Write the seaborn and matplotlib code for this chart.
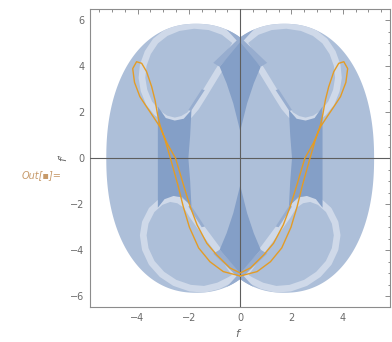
import numpy as np
import pandas as pd
import matplotlib
matplotlib.use("Agg")
import matplotlib.pyplot as plt
import seaborn as sns
from matplotlib.patches import Polygon
from matplotlib.ticker import MultipleLocator

# ---------------- data ----------------
# the two lobes: superellipse centre x, semi-axes and exponent (right lobe is the mirror)
lobe_cx = -1.72
lobe_a = 3.5
lobe_b = 5.85
lobe_n = 2.2

# light rings (centre lines)
ring_ul_x = [-0.14, -0.5, -0.85, -1.15, -1.45, -1.72, -1.98, -2.25, -2.55, -2.9, -3.25, -3.55, -3.75,
             -3.83, -3.78, -3.6, -3.3, -2.9, -2.4, -1.8, -1.2, -0.65, -0.14]
ring_ul_y = [5.05, 4.4, 3.8, 3.25, 2.7, 2.22, 1.88, 1.7, 1.62, 1.72, 1.98, 2.4, 2.95,
             3.5, 4.05, 4.6, 5.1, 5.45, 5.68, 5.78, 5.72, 5.5, 5.05]
ring_ll_x = [-0.14, -0.5, -0.9, -1.3, -1.6, -1.85, -2.1, -2.4, -2.74, -3.1, -3.45, -3.7, -3.78,
             -3.7, -3.45, -3.05, -2.55, -1.95, -1.4, -0.85, -0.4, -0.14]
ring_ll_y = [-5.12, -4.55, -3.95, -3.35, -2.9, -2.5, -2.05, -1.82, -1.75, -1.9, -2.25, -2.8, -3.35,
             -3.95, -4.55, -5.05, -5.42, -5.65, -5.7, -5.55, -5.3, -5.12]
ring_ur_x = [0.14, 0.5, 0.85, 1.15, 1.45, 1.72, 1.98, 2.25, 2.55, 2.9, 3.25, 3.55, 3.75,
             3.83, 3.78, 3.6, 3.3, 2.9, 2.4, 1.8, 1.2, 0.65, 0.14]
ring_ur_y = ring_ul_y
ring_lr_x = [0.14, 0.5, 0.9, 1.3, 1.6, 1.85, 2.1, 2.4, 2.74, 3.1, 3.45, 3.7, 3.78,
             3.7, 3.45, 3.05, 2.55, 1.95, 1.4, 0.85, 0.4, 0.14]
ring_lr_y = ring_ll_y

# dark side regions
side_l_x = [-3.21, -3.21, -2.95, -2.6, -2.25, -1.9, -1.95, -2.02, -1.95, -1.9, -2.2, -2.55, -2.9]
side_l_y = [2.25, -2.15, -1.78, -1.64, -1.7, -2.1, -1.0, 0.0, 1.0, 2.1, 1.72, 1.64, 1.75]
side_r_x = [3.21, 3.21, 2.95, 2.6, 2.25, 1.9, 1.95, 2.02, 1.95, 1.9, 2.2, 2.55, 2.9]
side_r_y = side_l_y

# central hourglasses
hour_t_x = [0.0, -0.8, -0.53, -0.27, -0.14, 0.0, 0.14, 0.27, 0.53, 0.8]
hour_t_y = [5.05, 3.98, 3.26, 2.39, 1.81, 1.18, 1.81, 2.39, 3.26, 3.98]
hour_b_x = hour_t_x
hour_b_y = [-5.0, -3.98, -3.26, -2.39, -1.81, -1.18, -1.81, -2.39, -3.26, -3.98]

# crossing bands (X) above / below the hourglasses
xarm_x = [[-1.05, 0.45, 0.65, -0.8], [1.05, -0.45, -0.65, 0.8]]
xarm_top_y = [4.15, 5.75, 5.75, 3.98]
xarm_bot_y = [-4.15, -5.75, -5.75, -3.98]

# thin slivers along the diagonals
sliver_x = [[-1.92, -1.38, -1.5, -2.02], [1.92, 1.38, 1.5, 2.02]]
sliver_top_y = [2.05, 2.97, 3.0, 2.1]
sliver_bot_y = [-2.05, -2.97, -3.0, -2.1]

# orange curve
curve_f = [0.0, -0.66, -1.18, -1.62, -1.98, -2.22, -2.42, -2.72, -2.93, -3.13, -3.22, -3.32, -3.45,
           -3.65, -3.84, -4.04, -4.19, -4.12, -3.91, -3.65, -3.39, -3.13, -2.85, -2.52, -2.2,
           -1.95, -1.68, -1.3, -0.92, -0.40, 0.0,
           0.40, 0.92, 1.3, 1.68, 1.95, 2.2, 2.52, 2.85, 3.13, 3.39, 3.65, 3.91, 4.12, 4.19,
           4.04, 3.84, 3.65, 3.45, 3.32, 3.22, 3.13, 2.93, 2.72, 2.42, 2.22, 1.98, 1.62, 1.18,
           0.66, 0.0]
curve_fp = [-5.12, -4.93, -4.5, -3.9, -3.0, -2.1, -1.2, 0.0, 0.8, 1.45, 1.9, 2.53, 3.11,
            3.77, 4.13, 4.2, 3.9, 3.3, 2.68, 2.24, 1.81, 1.37, 0.65, 0.0, -1.2,
            -2.1, -2.9, -3.7, -4.2, -4.77, -4.99,
            -4.77, -4.2, -3.7, -2.9, -2.1, -1.2, 0.0, 0.65, 1.37, 1.81, 2.24, 2.68, 3.3, 3.9,
            4.2, 4.13, 3.77, 3.11, 2.53, 1.9, 1.45, 0.8, 0.0, -1.2, -2.1, -3.0, -3.9, -4.5,
            -4.93, -5.12]

x_ticks = [-4, -2, 0, 2, 4]
y_ticks = [-6, -4, -2, 0, 2, 4, 6]

# ---------------- styling ----------------
sns.set_theme(style="white")
plt.rcParams["font.family"] = ["DejaVu Sans"]

c_light = "#cfd9e9"
c_mid = "#adbfd9"
c_3 = "#97adcf"
c_4 = "#849fc7"
c_curve = "#e39c26"
c_frame = "#8c8c8c"
c_text = "#6a6a6a"

W, H = 392, 342
fig = plt.figure(figsize=(W / 100, H / 100), dpi=100)
ax = fig.add_axes([90 / W, (H - 307) / H, 300 / W, 297.7 / H])
ax.set_xlim(-5.855, 5.84)
ax.set_ylim(-6.47, 6.48)

# outline of the union of the two superelliptic lobes
th = np.linspace(0, 2 * np.pi, 1441)
ex = lobe_cx + lobe_a * np.sign(np.cos(th)) * np.abs(np.cos(th)) ** (2 / lobe_n)
ey = lobe_b * np.sign(np.sin(th)) * np.abs(np.sin(th)) ** (2 / lobe_n)
keep = ex <= 0
left_arc = np.column_stack([ex[keep], ey[keep]])
right_arc = np.column_stack([-left_arc[::-1, 0], left_arc[::-1, 1]])
outline = np.vstack([left_arc, right_arc])

union = Polygon(outline, closed=True, facecolor=c_mid, edgecolor="none", zorder=1)
ax.add_patch(union)


def clipped(artists):
    for a in artists:
        a.set_clip_path(union)


for rx, ry in [(ring_ul_x, ring_ul_y), (ring_ll_x, ring_ll_y),
               (ring_ur_x, ring_ur_y), (ring_lr_x, ring_lr_y)]:
    clipped(ax.plot(rx, ry, color=c_light, lw=4.8, solid_joinstyle="round",
                    solid_capstyle="round", zorder=2))

for sx, sy in [(side_l_x, side_l_y), (side_r_x, side_r_y)]:
    clipped(ax.fill(sx, sy, color=c_4, lw=0, zorder=3))

for xs in sliver_x:
    clipped(ax.fill(xs, sliver_top_y, color=c_3, lw=0, zorder=3))
    clipped(ax.fill(xs, sliver_bot_y, color=c_3, lw=0, zorder=3))

for xs in xarm_x:
    clipped(ax.fill(xs, xarm_top_y, color=c_3, lw=0, zorder=3))
    clipped(ax.fill(xs, xarm_bot_y, color=c_3, lw=0, zorder=3))

clipped(ax.fill(hour_t_x, hour_t_y, color=c_4, lw=0, zorder=4))
clipped(ax.fill(hour_b_x, hour_b_y, color=c_4, lw=0, zorder=4))

# axes lines
ax.axhline(0, color="#5e5e5e", lw=0.8, zorder=5)
ax.axvline(0, color="#5e5e5e", lw=0.8, zorder=5)

df = pd.DataFrame({"f": curve_f, "fp": curve_fp})
sns.lineplot(data=df, x="f", y="fp", sort=False, estimator=None, color=c_curve,
             lw=1.0, ax=ax, zorder=6)

# frame & ticks
for s in ax.spines.values():
    s.set_color(c_frame)
    s.set_linewidth(0.8)
ax.set_xticks(x_ticks)
ax.set_yticks(y_ticks)
ax.xaxis.set_minor_locator(MultipleLocator(0.5))
ax.yaxis.set_minor_locator(MultipleLocator(0.5))
ax.tick_params(which="both", direction="in", top=True, right=True, color=c_frame,
               labelcolor=c_text, labelsize=7, width=0.7)
ax.tick_params(which="major", length=3.3, pad=4)
ax.tick_params(which="minor", length=1.8)
ax.set_xlabel("")
ax.set_ylabel("")
ax.grid(False)

fig.text(239 / W, 1 - 333 / H, "$f$", color=c_text, fontsize=8, ha="center", va="center")
fig.text(64 / W, 1 - 158 / H, "$f'$", color=c_text, fontsize=8, ha="center", va="center",
         rotation=90)
fig.text(22 / W, 1 - 175 / H, "Out[\u25aa]=", color="#c79a6a", fontsize=7, ha="left",
         va="center", style="italic")

fig.savefig("out.png", dpi=100)
